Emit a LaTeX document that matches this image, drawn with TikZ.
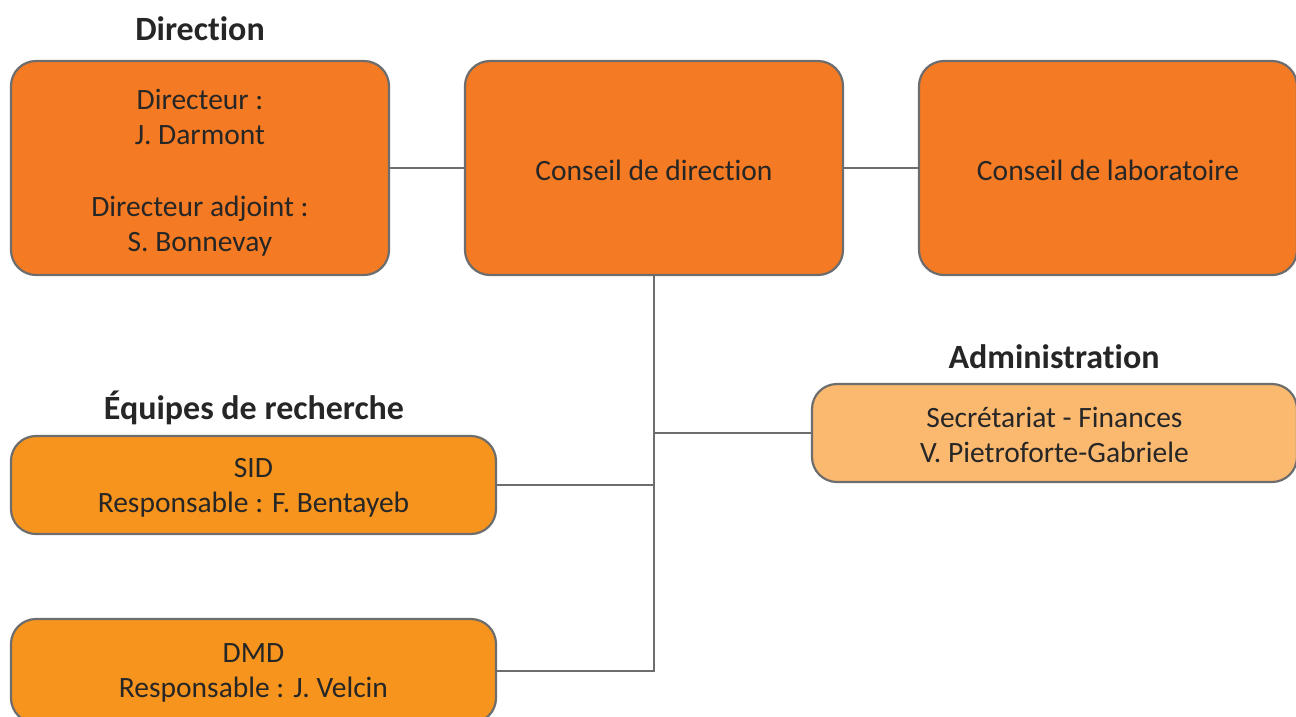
\documentclass[tikz,border=0pt]{standalone}
\usepackage{fontspec}
\setmainfont{Carlito}[Ligatures=NoCommon]
\definecolor{orgA}{HTML}{F47A23}
\definecolor{orgB}{HTML}{F7941E}
\definecolor{orgC}{HTML}{FBB970}
\definecolor{edge}{HTML}{6D6D6D}
\definecolor{txt}{HTML}{262626}
\newcommand{\lowered}[2]{\raisebox{-#1}[\height][\depth]{\begin{tabular}{@{}c@{}}#2\end{tabular}}}
\begin{document}
\begin{tikzpicture}[x=1pt,y=-1pt,
  box/.style={draw=edge, line width=2.2pt, rounded corners=25pt, inner sep=0pt, align=center,
     text=txt, font=\fontsize{29.5}{35}\selectfont},
  bigbox/.style={box, minimum width=378pt, minimum height=214pt},
  smallbox/.style={box, minimum width=485pt, minimum height=98pt},
  title/.style={text=txt, font=\fontsize{34}{38}\selectfont\bfseries},
  link/.style={draw=edge, line width=2.2pt}]
\useasboundingbox (0,0) rectangle (1296,716);
\node[bigbox, fill=orgA] (dir) at (200,168) {\lowered{5pt}{Directeur :\\ J. Darmont\\[37pt] Directeur adjoint :\\ S. Bonnevay}};
\node[bigbox, fill=orgA] (cdir) at (654,168) {\lowered{5pt}{Conseil de direction}};
\node[bigbox, fill=orgA] (clab) at (1108,168) {\lowered{5pt}{Conseil de laboratoire}};
\node[smallbox, fill=orgC] (adm) at (1054.5,433) {\lowered{5pt}{Secrétariat - Finances\\ V. Pietroforte-Gabriele}};
\node[smallbox, fill=orgB] (sid) at (253.5,485) {\lowered{3pt}{SID\\ Responsable : F. Bentayeb}};
\node[smallbox, fill=orgB, minimum height=104pt] (dmd) at (253.5,671) {\lowered{2pt}{DMD\\ Responsable : J. Velcin}};
\node[title] (t1) at (200,29) {Direction};
\node[title] (t2) at (254,408) {Équipes de recherche};
\node[title] (t3) at (1054,357) {Administration};
\draw[link] (dir.east) -- (cdir.west);
\draw[link] (cdir.east) -- (clab.west);
\draw[link] (cdir.south) |- (dmd.east);
\draw[link] (sid.east) -- (sid.east -| cdir.south);
\draw[link] (adm.west) -- (adm.west -| cdir.south);
\end{tikzpicture}
\end{document}
